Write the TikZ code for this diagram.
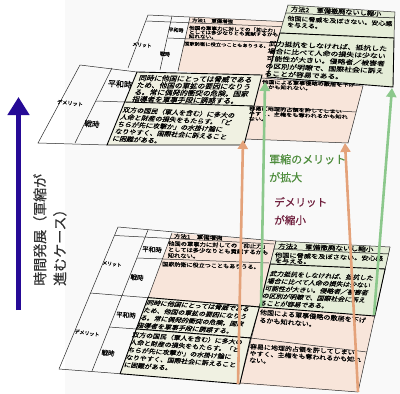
\documentclass[tikz,border=0pt]{standalone}
\usepackage{fontspec}
\setmainfont{Noto Sans CJK JP}[FakeBold=0.3]
\usetikzlibrary{arrows.meta}
\newcommand{\fsz}[2]{\fontsize{#1pt}{#2pt}\selectfont}
\definecolor{pinkc}{RGB}{248,229,218}
\definecolor{greenc}{RGB}{229,237,216}
\definecolor{creamc}{RGB}{240,241,226}
\definecolor{bgc}{RGB}{249,249,249}
\definecolor{garrow}{RGB}{140,200,140}
\definecolor{oarrow}{RGB}{228,162,122}
\definecolor{gtext}{RGB}{78,140,60}
\definecolor{mtext}{RGB}{112,32,62}
\definecolor{barrow}{RGB}{38,10,150}
\definecolor{ink}{RGB}{40,40,40}
\definecolor{vtext}{RGB}{50,50,50}
\begin{document}
\begin{tikzpicture}[x=1pt,y=-1pt,
 grid/.style={draw=ink, line width=0.5pt},
 boldline/.style={draw=black, line width=0.9pt},
 ctext/.style={anchor=north west, inner sep=0pt, align=left, text=black},
 lbl/.style={inner sep=0pt, text=black},
 garr/.style={draw=garrow, line width=2.6pt, -{Triangle[width=10pt,length=9pt]}},
 oarr/.style={draw=oarrow, line width=2.6pt, -{Triangle[width=10pt,length=9pt]}},
]
\useasboundingbox (0,0) rectangle (400,394);
\fill[bgc] (65,0) rectangle (400,394);

% ===== LOWER TABLE =====
\fill[pinkc] (172,233) -- (276,241) -- (259.4,307) -- (148.1,297.6) -- cycle;
\fill[pinkc] (259.4,307) -- (374.8,316) -- (358,392) -- (239.8,383.9) -- cycle;
\draw[grid] (118,227) -- (276,241);
\draw[grid] (118,227) -- (59,369);
\draw[grid] (148,230) -- (92,371);
\draw[grid] (172,233) -- (120.1,373.7);
\draw[grid] (276,241) -- (239.8,383.9);
\draw[grid] (390,247) -- (358,392);
\draw[grid] (115,235.5) -- (274,244);
\draw[grid] (137,258) -- (269,263);
\draw[grid] (90,293) -- (374.8,316);
\draw[grid] (109,327) -- (136.3,329) (250.6,338) -- (367,352);
\draw[grid] (59,369) -- (358,392);
\draw[boldline, fill=creamc] (148.1,297.6) -- (259.4,307) -- (250.6,338) -- (136.3,329) -- cycle;
\draw[boldline, fill=creamc] (136.3,329) -- (250.6,338) -- (239.8,383.9) -- (120.1,373.7) -- cycle;
\draw[grid, fill=greenc] (276,241) -- (390,247) -- (388.5,254) -- (274,249) -- cycle;
\draw[grid, fill=greenc] (274,249) -- (388.5,254) -- (385.1,269) -- (270.2,264) -- cycle;
\draw[boldline, fill=greenc] (270.2,264) -- (385.1,269) -- (374.8,316) -- (259.4,307) -- cycle;

% lower texts
\node[ctext, rotate=-2.5, yscale=0.8, font=\fsz{6.4}{7}] (lh1) at (174,233.5) {方法1　軍備増強};
\node[ctext, rotate=-1.7, yscale=0.85, font=\fsz{6.3}{7}] (lc1) at (168,240.8) {他国の軍事力に対しての「抑止力」\\としては多少なりとも貢献するかも\\知れない。};
\node[ctext, rotate=-1.7, yscale=0.85, font=\fsz{6.1}{7}] (lc2) at (162,261.5) {国家防衛に役立つこともありうる。};
\node[ctext, rotate=-2, yscale=0.8, font=\fsz{7.6}{8}] (lh2) at (278,243) {方法2　軍備撤廃ないし縮小};
\node[ctext, rotate=-2, yscale=0.8, font=\fsz{7.2}{7}] (ld1) at (275,252) {他国に脅威を及ぼさない。安心感\\を与える。};
\node[ctext, rotate=-2.5, xslant=0.3, yscale=0.88, font=\fsz{6.9}{8.5}] (ld2) at (271,270.5) {武力抵抗をしなければ、抵抗した\\場合に比べて人命の損失は少ない\\可能性が大きい。侵略者／被害者\\の区別が明瞭で、国際社会に訴え\\ることが容易である。};
\node[ctext, rotate=-3.7, xslant=0.35, yscale=0.88, font=\fsz{6.9}{8.8}] (lc3) at (148,299.5) {同時に他国にとっては脅威である\\ため、他国の軍拡の要因になりう\\る。常に偶発的衝突の危険。国家\\指導者を軍事手段に誘惑する。};
\node[ctext, rotate=-4, xslant=0.2, yscale=0.88, font=\fsz{6.9}{8.7}] (lc4) at (133,331.5) {双方の国民（軍人を含む）に多大の\\人命と財産の損失をもたらす。「ど\\ちらが先に攻撃か」の水掛け論に\\なりやすく、国際社会に訴えること\\に困難がある。};
\node[ctext, rotate=-4.5, yscale=0.88, font=\fsz{7.1}{9}] (ld3) at (260,309) {他国による軍事侵略の敷居を下げ\\るかも知れない。};
\node[ctext, rotate=-3.3, yscale=0.85, font=\fsz{7}{8}] (ld4) at (250,343.5) {容易に地理的占領を許してしまい\\やすく、主権をも奪われるかも知れ\\ない。};
\node[lbl, rotate=-8, font=\fsz{4.8}{5}] (lm) at (112,264) {メリット};
\node[lbl, rotate=-4, font=\fsz{6.5}{7}] (lp1) at (152,249.5) {平和時};
\node[lbl, rotate=-4, font=\fsz{6.5}{7}] (lw1) at (137,277.5) {戦時};
\node[lbl, rotate=-8, font=\fsz{5}{5}] (ldm) at (87,333) {デメリット};
\node[lbl, rotate=-4, font=\fsz{6.5}{7}] (lp2) at (126,315) {平和時};
\node[lbl, rotate=-4, font=\fsz{6.5}{7}] (lw2) at (108,353) {戦時};

% ===== UPPER TABLE =====
\fill[pinkc] (190,17) -- (292,22) -- (268,79) -- (178,71) -- cycle;
\fill[pinkc] (262,78) -- (363,86) -- (348,143) -- (245,139) -- cycle;
\draw[grid] (148,15) -- (292,22);
\draw[grid] (148,15) -- (128,68);
\draw[grid] (172,16) -- (160,70);
\draw[grid] (190,17) -- (178,71);
\draw[grid] (146.5,21) -- (290,27);
\draw[grid] (168,38) -- (284,43);
\draw[grid] (262,78) -- (363,86) -- (348,143) -- (245,139);
\draw[grid] (255,106) -- (356,112);
\draw[grid] (80,65) -- (137,72);
\draw[grid] (80,65) -- (38,143) -- (107,145);
\draw[grid] (112,68) -- (75,143);
\draw[grid] (96,101) -- (124.7,102);
\draw[boldline, fill=creamc] (137,72) -- (262,75) -- (244,145) -- (107,145) -- cycle;
\draw[boldline] (124.7,102) -- (254,106);
\draw[grid, fill=greenc] (288,5) -- (395,12) -- (394.6,18) -- (285.7,13) -- cycle;
\draw[grid, fill=greenc] (285.7,13) -- (394.6,18) -- (394,38) -- (279.8,33) -- cycle;
\draw[boldline, fill=greenc] (279.8,33) -- (394,38) -- (393,87) -- (267,77) -- cycle;

% upper texts
\node[ctext, rotate=-2, yscale=0.8, font=\fsz{5.4}{6}] (uh1) at (192,18) {方法1　軍備増強};
\node[ctext, rotate=-1.7, yscale=0.8, font=\fsz{5.6}{5.3}] (uc1) at (189,25.5) {他国の軍事力に対しての「抑止力」\\としては多少なりとも貢献するかも\\知れない。};
\node[ctext, rotate=-1.7, yscale=0.8, font=\fsz{5.3}{6}] (uc2) at (184,41.5) {国家防衛に役立つこともありうる。};
\node[ctext, rotate=-3, yscale=0.85, font=\fsz{7.2}{8}] (uh2) at (291,6) {方法2　軍備撤廃ないし縮小};
\node[ctext, rotate=-3, yscale=0.8, font=\fsz{7.0}{8}] (ud1) at (287.5,15.5) {他国に脅威を及ぼさない。安心感\\を与える。};
\node[ctext, rotate=-2.5, xslant=0.1, yscale=0.78, font=\fsz{7.9}{9.6}] (ud2) at (269,40.5) {武力抵抗をしなければ、抵抗した\\場合に比べて人命の損失は少ない\\可能性が大きい。侵略者／被害者\\の区別が明瞭で、国際社会に訴え\\ることが容易である。};
\node[ctext, rotate=-1, xslant=0.3, yscale=0.9, font=\fsz{7.6}{7.9}] (uc3) at (140,74.5) {同時に他国にとっては脅威である\\ため、他国の軍拡の要因になりう\\る。常に偶発的衝突の危険。国家\\指導者を軍事手段に誘惑する。};
\node[ctext, rotate=-3, xslant=0.3, yscale=0.9, font=\fsz{7.0}{8.1}] (uc4) at (124,106.5) {双方の国民（軍人を含む）に多大の\\人命と財産の損失をもたらす。「ど\\ちらが先に攻撃か」の水掛け論に\\なりやすく、国際社会に訴えること\\に困難がある。};
\node[ctext, rotate=-2, yscale=0.75, font=\fsz{6.2}{6.5}] (ud3) at (262,79.5) {他国による軍事侵略の敷居を下げ\\るかも知れない。};
\node[ctext, rotate=-2, yscale=0.75, font=\fsz{6.2}{6.8}] (ud4) at (249,106) {容易に地理的占領を許してしまい\\やすく、主権をも奪われるかも知れ\\ない。};
\node[lbl, rotate=-6, font=\fsz{4.8}{5}] (um) at (142,45) {メリット};
\node[lbl, rotate=-4, font=\fsz{5}{5}] (up1) at (176,30) {平和時};
\node[lbl, rotate=-4, font=\fsz{5}{5}] (uw1) at (165,54) {戦時};
\node[lbl, rotate=-6, font=\fsz{5.2}{5}] (udm) at (70,103) {デメリット};
\node[lbl, rotate=-4, font=\fsz{8}{8}] (up2) at (120,84) {平和時};
\node[lbl, rotate=-4, font=\fsz{7.5}{8}] (uw2) at (92,124) {戦時};

% ===== ARROWS =====
\coordinate (oL0) at (238,384); \coordinate (oL1) at (243,140);
\coordinate (oR0) at (358,392); \coordinate (oR1) at (345,143);
\coordinate (gL0) at (261,307); \coordinate (gL1) at (265,82);
\coordinate (gR0) at (374,315); \coordinate (gR1) at (392,88);
\draw[oarr] (oL0) -- (oL1);
\draw[oarr] (oR0) -- (oR1);
\draw[garr] (gL0) -- (gL1);
\draw[garr] (gR0) -- (gR1);

\coordinate (bA0) at (18.5,310); \coordinate (bA1) at (18.5,97);
\draw[draw=barrow, line width=5pt, -{Triangle[width=21pt,length=18pt]}] (bA0) -- (bA1);

\node[anchor=north west, inner sep=0pt, align=left, rotate=90, text=vtext, font=\fsz{14}{20}] (vt) at (33,286) {時間発展（軍縮が\\進むケース）};

\node[anchor=north west, inner sep=0pt, align=left, text=gtext, font=\fsz{11}{18}] (merit) at (269,154) {軍縮のメリット\\が拡大};
\node[anchor=north west, inner sep=0pt, align=left, text=mtext, font=\fsz{10.6}{18}] (demerit) at (274,197) {デメリット\\が縮小};
\end{tikzpicture}
\end{document}
